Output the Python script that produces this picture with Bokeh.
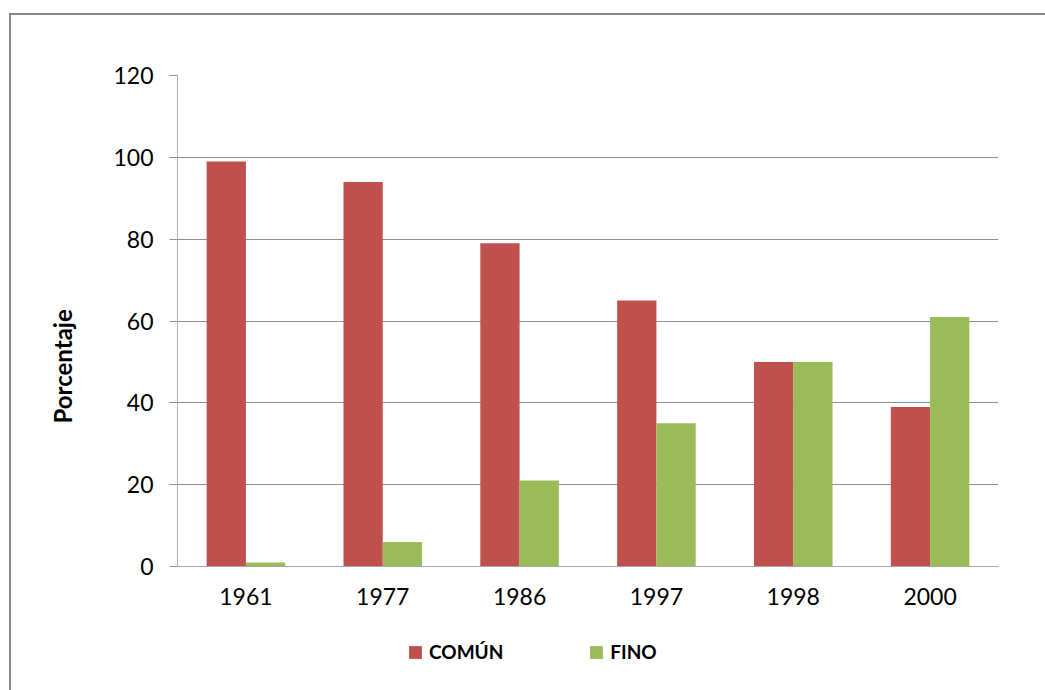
from bokeh.plotting import figure
from bokeh.layouts import column
from bokeh.models import ColumnDataSource, FactorRange, Range1d, Legend, LegendItem, FixedTicker, Title
from bokeh.transform import dodge
from bokeh.embed import file_html
from bokeh.resources import INLINE

years = ["1961", "1977", "1986", "1997", "1998", "2000"]
comun = [99, 94, 79, 65, 50, 39]
fino = [1, 6, 21, 35, 50, 61]
y_ticks = [0, 20, 40, 60, 80, 100, 120]
series_names = ["COMÚN", "FINO"]

RED = "#C0504D"
GREEN = "#9BBB59"
FONT = "Lato"

src = ColumnDataSource(dict(years=years, comun=comun, fino=fino))

p = figure(
    x_range=FactorRange(factors=years, range_padding=0),
    y_range=Range1d(0, 120),
    width=1034, height=621,
    output_backend="svg", toolbar_location=None,
    min_border_left=150, min_border_right=47,
    min_border_top=60, min_border_bottom=70,
)
p.outline_line_color = None

r1 = p.vbar(x=dodge("years", -0.1435, range=p.x_range), top="comun", width=0.287,
            source=src, fill_color=RED, line_color=None)
r2 = p.vbar(x=dodge("years", 0.1435, range=p.x_range), top="fino", width=0.287,
            source=src, fill_color=GREEN, line_color=None)

p.xgrid.grid_line_color = None
p.ygrid.grid_line_color = "#8f8f8f"
p.ygrid.grid_line_width = 1

p.yaxis.ticker = FixedTicker(ticks=y_ticks)
p.yaxis.major_tick_out = 8
p.yaxis.major_tick_in = 0
p.yaxis.minor_tick_line_color = None
p.yaxis.major_tick_line_color = "#8f8f8f"
p.yaxis.axis_line_color = "#b0b0b0"
p.yaxis.major_label_text_font = FONT
p.yaxis.major_label_text_font_size = "23px"
p.yaxis.major_label_text_color = "#000000"
p.yaxis.major_label_standoff = 16

# y-axis title, shifted down like the original
ytitle = Title(text="Porcentaje", align="left", offset=143, standoff=68,
               text_font=FONT, text_font_style="bold", text_font_size="24px",
               text_color="#000000")
p.add_layout(ytitle, "left")

p.xaxis.major_tick_out = 0
p.xaxis.major_tick_in = 0
p.xaxis.minor_tick_line_color = None
p.xaxis.axis_line_color = "#a6a6a6"
p.xaxis.major_label_text_font = FONT
p.xaxis.major_label_text_font_size = "23px"
p.xaxis.major_label_text_color = "#000000"
p.xaxis.major_label_standoff = 21

# legend strip below the plot (its own bars fall outside its y range)
p2 = figure(
    x_range=p.x_range, y_range=Range1d(1000, 1001),
    width=1034, height=54,
    output_backend="svg", toolbar_location=None,
    min_border_left=150, min_border_right=47, min_border_top=0, min_border_bottom=0,
)
p2.axis.visible = False
p2.grid.visible = False
p2.outline_line_color = None
l1 = p2.vbar(x=dodge("years", -0.1435, range=p2.x_range), top="comun", width=0.287,
             source=src, fill_color=RED, line_color=None)
l2 = p2.vbar(x=dodge("years", 0.1435, range=p2.x_range), top="fino", width=0.287,
             source=src, fill_color=GREEN, line_color=None)

legend = Legend(
    items=[LegendItem(label=series_names[0], renderers=[l1]),
           LegendItem(label=series_names[1], renderers=[l2])],
    orientation="horizontal",
    location=(230, 27),
    glyph_width=16, glyph_height=16,
    label_standoff=6, spacing=85,
    padding=0, margin=0,
    border_line_color=None, background_fill_alpha=0,
    label_text_font=FONT, label_text_font_style="bold",
    label_text_font_size="19px", label_text_color="#000000",
)
p2.add_layout(legend)

layout = column(p, p2, spacing=0, margin=(13, 0, 0, 9))
layout.styles = {"border-left": "2px solid #878787", "border-top": "2px solid #878787"}

open("out.html", "w").write(file_html(layout, INLINE))
